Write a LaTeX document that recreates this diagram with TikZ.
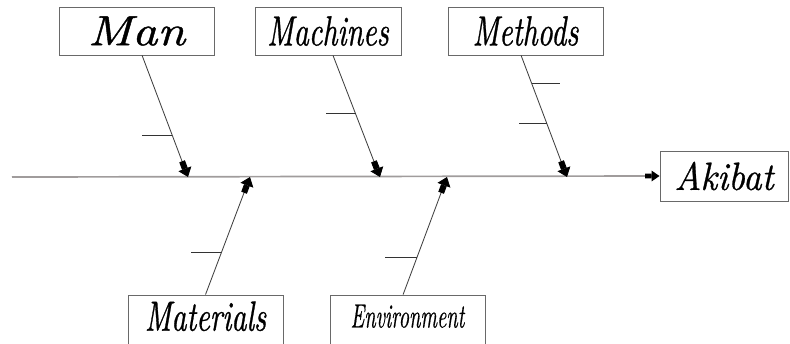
\documentclass[tikz,border=0pt]{standalone}
\usepackage{fontspec}
\newfontfamily\wideit{lmroman10-italic.otf}[FakeStretch=1.17,FakeBold=1]
\newfontfamily\narrowit{lmroman10-italic.otf}[FakeStretch=0.7,FakeBold=0.7]
\newfontfamily\narrowerit{lmroman10-italic.otf}[FakeStretch=0.6,FakeBold=0.4]
\newfontfamily\effectit{lmroman10-italic.otf}[FakeStretch=0.92,FakeBold=0.7]
\usetikzlibrary{arrows.meta}
\definecolor{spinegray}{RGB}{160,156,156}
\definecolor{boxgray}{RGB}{105,105,105}
\tikzstyle{cause}=[draw=boxgray,line width=0.6pt,minimum width=38.75mm,minimum height=12mm,inner sep=0pt,font=\fontsize{30}{30}\selectfont]
\tikzstyle{lowcause}=[cause,minimum height=14mm,text depth=3.5mm]
\tikzstyle{bone}=[draw=black!75,line width=0.6pt,-{Rectangle[length=2mm,width=1.5mm,color=black]Triangle[length=2.2mm,width=3.4mm,color=black]}]
\tikzstyle{twig}=[draw=black!80,line width=0.5pt]
\tikzstyle{spine}=[draw=spinegray,line width=1.2pt,-{Rectangle[length=1.6mm,width=1.2mm,color=black]Triangle[length=2mm,width=2.6mm,color=black]}]

\begin{document}
\begin{tikzpicture}[x=0.25mm,y=-0.25mm]
		\useasboundingbox (0,0) rectangle (790,343);
		\clip (0,0) rectangle (790,343);
		% top causes
		\node[cause] (man) at (136.5,31) {\wideit Man};
		\node[cause,minimum width=36.5mm] (machines) at (328,31) {\narrowit Machines};
		\node[cause] (methods) at (525.5,31) {\narrowit Methods};
		% bottom causes
		\node[lowcause] (materials) at (205.5,323) {\narrowit Materials};
		\node[lowcause,font=\fontsize{24}{24}\selectfont] (environment) at (407.5,323) {\narrowerit Environment};
		% effect
		\node[cause,minimum width=32mm,minimum height=12.5mm,font=\fontsize{28}{28}\selectfont] (akibat) at (724,176) {\effectit Akibat};
		% spine
		\coordinate (tail) at (12,177);
		\draw[spine] (tail) -- (akibat.west);
		\coordinate (manhead) at (188,177);
		\coordinate (mathead) at (250,177);
		\coordinate (machead) at (380,177);
		\coordinate (envhead) at (447,177);
		\coordinate (methead) at (567,177);
		% bones
		\draw[bone] ([xshift=1.4mm]man.south) -- coordinate[pos=0.66] (man1) (manhead);
		\draw[bone] ([xshift=1.25mm]machines.south) -- coordinate[pos=0.48] (mac1) (machead);
		\draw[bone] ([xshift=-1.1mm]methods.south) -- coordinate[pos=0.23] (met1) coordinate[pos=0.56] (met2) (methead);
		\draw[bone] (materials.north) -- coordinate[pos=0.356] (mat1) (mathead);
		\draw[bone] ([xshift=-1.1mm]environment.north) -- coordinate[pos=0.32] (env1) (envhead);
		% sub causes
		\draw[twig] (man1) -- ++(-30,0);
		\draw[twig] (mac1) -- ++(-30,0);
		\draw[twig] (met1) -- ++(28,0);
		\draw[twig] (met2) -- ++(-28,0);
		\draw[twig] (mat1) -- ++(-30,0);
		\draw[twig] (env1) -- ++(-32,0);
	\end{tikzpicture}
\end{document}
